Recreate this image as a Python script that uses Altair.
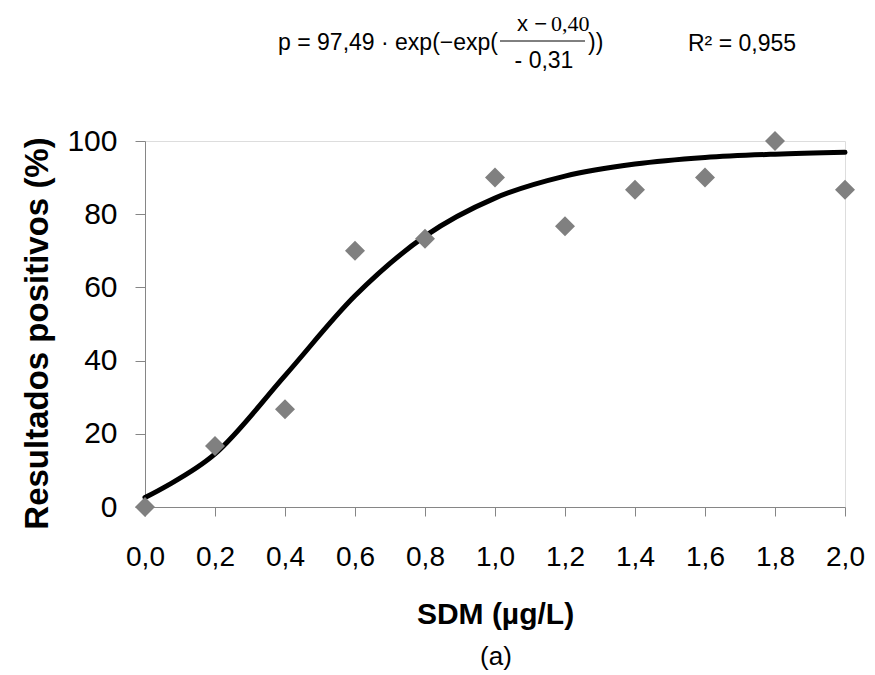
import altair as alt
import pandas as pd

sdm = [0.0, 0.2, 0.4, 0.6, 0.8, 1.0, 1.2, 1.4, 1.6, 1.8, 2.0]
positivos = [0.0, 16.7, 26.7, 70.0, 73.3, 90.0, 76.7, 86.7, 90.0, 100.0, 86.7]
# Fitted curve values read at each x position
curve_y = [2.6, 14.5, 35.9, 57.7, 74.0, 84.4, 90.4, 93.7, 95.5, 96.4, 96.9]

x_ticks = [0.0, 0.2, 0.4, 0.6, 0.8, 1.0, 1.2, 1.4, 1.6, 1.8, 2.0]
y_ticks = [0, 20, 40, 60, 80, 100]

pts = pd.DataFrame({"x": sdm, "y": positivos})
crv = pd.DataFrame({"x": sdm, "y": curve_y})

FONT = "Liberation Sans"
SERIF = "Liberation Serif"
W, H = 700, 366

xs = alt.Scale(domain=[0, 2], nice=False, zero=False)
ys = alt.Scale(domain=[0, 100], nice=False)

xax = alt.Axis(
    values=x_ticks,
    labelExpr="replace(format(datum.value, '.1f'), '.', ',')",
    title="SDM (µg/L)",
    titleFont=FONT, titleFontSize=30, titleFontWeight="bold", titleColor="black",
    titleY=116, titleBaseline="alphabetic",
    labelFont=FONT, labelFontSize=28, labelColor="black", labelPadding=27,
    tickSize=9, tickColor="#868686", domainColor="#868686", grid=False,
    labelFlush=False, labelOverlap=False,
)
yax = alt.Axis(
    values=y_ticks, format="d",
    title="Resultados positivos (%)",
    titleFont=FONT, titleFontSize=33, titleFontWeight="bold", titleColor="black",
    titleX=-98, titleY=192, titleAngle=270, titleBaseline="alphabetic",
    labelFont=FONT, labelFontSize=30, labelColor="black", labelPadding=18,
    tickSize=10, tickColor="#868686", domainColor="#868686", grid=False,
    labelFlush=False, labelOverlap=False,
)

line = alt.Chart(crv).mark_line(
    color="black", strokeWidth=5, interpolate="cardinal", strokeCap="round"
).encode(x=alt.X("x:Q", scale=xs, axis=xax), y=alt.Y("y:Q", scale=ys, axis=yax))

points = alt.Chart(pts).mark_point(
    shape="diamond", filled=True, color="#808080", size=400, opacity=1
).encode(x=alt.X("x:Q", scale=xs), y=alt.Y("y:Q", scale=ys))


def txt(t, x, y, size, align="left", font=FONT, weight="normal"):
    return alt.Chart(pd.DataFrame({"t": [t]})).mark_text(
        align=align, baseline="alphabetic", font=font, fontSize=size,
        fontWeight=weight, color="black"
    ).encode(x=alt.value(x), y=alt.value(y), text="t:N")


eq_main = txt("p = 97,49 · exp(−exp(", 353, -91, 23, align="right")
num_a = txt("x −", 402, -110, 22, align="right")
num_b = txt("0,40", 406, -110, 22, font=SERIF)
den = txt("- 0,31", 399, -73, 23, align="center")
close = txt("))", 443, -91, 23)
r2 = txt("R² = 0,955", 543, -90, 23)
label_a = txt("(a)", 351, 524, 26, align="center")

bar = alt.Chart(pd.DataFrame({"a": [0]})).mark_rule(color="black", strokeWidth=1).encode(
    x=alt.value(355), x2=alt.value(440), y=alt.value(-100)
)

chart = alt.layer(
    line, points, eq_main, num_a, num_b, den, close, r2, label_a, bar
).properties(
    width=W, height=H,
    autosize=alt.AutoSizeParams(type="none"),
    padding={"left": 137, "top": 133, "right": 22, "bottom": 165},
).configure_view(stroke=None).configure(background="white")

chart.save("out.html", embed_options={"renderer": "svg", "actions": False})
